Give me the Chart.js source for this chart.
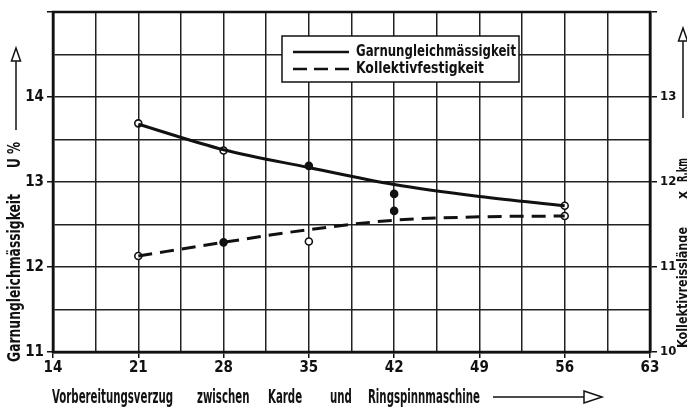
<!DOCTYPE html>
<html>
<head>
<meta charset="utf-8">
<script src="https://cdn.jsdelivr.net/npm/chart.js@4.4.1/dist/chart.umd.min.js"></script>
<style>
html, body { margin: 0; padding: 0; background: #fff; }
#wrap { width: 687px; height: 411px; }
</style>
</head>
<body>
<div id="wrap"><canvas id="chart"></canvas></div>
<script>
var FONT = "'Liberation Sans Narrow', 'DejaVu Sans Condensed', sans-serif";

// smooth fitted curves, read at the grid columns
var curve_x = [21, 28, 35, 42, 49, 56];
var curve_u = [13.68, 13.38, 13.17, 12.97, 12.83, 12.72];   // Garnungleichmässigkeit, U %
var curve_r = [11.13, 11.29, 11.44, 11.55, 11.59, 11.60];   // Kollektivfestigkeit, R.km

// measured points
var point_u_x = [21, 28, 35, 42, 56];
var point_u = [13.69, 13.37, 13.19, 12.86, 12.72];
var point_u_filled = [false, false, true, true, false];
var point_r_x = [21, 28, 35, 42, 56];
var point_r = [11.13, 11.29, 11.30, 11.66, 11.60];
var point_r_filled = [false, true, false, true, false];

var label_u = 'Garnungleichmässigkeit';
var label_r = 'Kollektivfestigkeit';

function pairs(xs, ys) {
    return xs.map(function (x, i) { return { x: x, y: ys[i] }; });
}

function arrow_up(ctx, x, y_bottom, y_top) {
    ctx.beginPath();
    ctx.moveTo(x, y_bottom);
    ctx.lineTo(x, y_top + 13);
    ctx.stroke();
    ctx.beginPath();
    ctx.moveTo(x - 4.5, y_top + 13);
    ctx.lineTo(x, y_top);
    ctx.lineTo(x + 4.5, y_top + 13);
    ctx.closePath();
    ctx.fillStyle = '#fff';
    ctx.fill();
    ctx.stroke();
}

var decorations = {
    id: 'decorations',
    afterDraw: function (chart) {
        var ctx = chart.ctx;
        var area = chart.chartArea;
        ctx.save();
        ctx.strokeStyle = '#111';
        ctx.lineWidth = 2.5;
        ctx.strokeRect(area.left, area.top, area.right - area.left, area.bottom - area.top);

        // legend box
        ctx.fillStyle = '#fff';
        ctx.fillRect(282, 36, 237, 46);
        ctx.lineWidth = 1.5;
        ctx.strokeRect(282, 36, 237, 46);
        ctx.lineWidth = 2.5;
        ctx.beginPath();
        ctx.moveTo(293, 52);
        ctx.lineTo(349, 52);
        ctx.stroke();
        ctx.setLineDash([14, 7]);
        ctx.beginPath();
        ctx.moveTo(293, 69);
        ctx.lineTo(349, 69);
        ctx.stroke();
        ctx.setLineDash([]);
        ctx.fillStyle = '#111';
        ctx.font = 'bold 16px ' + FONT;
        ctx.textBaseline = 'middle';
        ctx.textAlign = 'left';
        ctx.fillText(label_u, 356, 52, 160);
        ctx.fillText(label_r, 356, 69, 128);

        // x title, one condensing factor for all words
        ctx.textBaseline = 'alphabetic';
        ctx.font = 'bold 19px ' + FONT;
        var sx = Math.min(1, 121 / ctx.measureText('Vorbereitungsverzug').width);
        var words = [['Vorbereitungsverzug', 52], ['zwischen', 197], ['Karde', 268],
                     ['und', 330], ['Ringspinnmaschine', 368]];
        words.forEach(function (w) {
            ctx.save();
            ctx.translate(w[1], 403);
            ctx.scale(sx, 1);
            ctx.fillText(w[0], 0, 0);
            ctx.restore();
        });
        ctx.lineWidth = 1.5;
        ctx.beginPath();
        ctx.moveTo(493, 397);
        ctx.lineTo(584, 397);
        ctx.stroke();
        ctx.beginPath();
        ctx.moveTo(584, 391);
        ctx.lineTo(602, 397);
        ctx.lineTo(584, 403);
        ctx.closePath();
        ctx.fillStyle = '#fff';
        ctx.fill();
        ctx.stroke();

        // left title
        ctx.fillStyle = '#111';
        ctx.save();
        ctx.translate(16, 0);
        ctx.rotate(-Math.PI / 2);
        ctx.textBaseline = 'middle';
        ctx.font = 'bold 17px ' + FONT;
        ctx.fillText('Garnungleichmässigkeit', -362, 0, 168);
        ctx.fillText('U %', -168, 0, 26);
        ctx.restore();
        arrow_up(ctx, 16, 130, 48);

        // right title
        ctx.fillStyle = '#111';
        ctx.save();
        ctx.translate(683, 0);
        ctx.rotate(-Math.PI / 2);
        ctx.textBaseline = 'middle';
        ctx.font = 'bold 14px ' + FONT;
        ctx.fillText('Kollektivreisslänge', -348, 0, 121);
        ctx.fillText('x', -199, 0, 8);
        ctx.fillText('R.km', -182, 0, 24);
        ctx.restore();
        arrow_up(ctx, 683, 118, 28);
        ctx.restore();
    }
};

var tick_font = { family: FONT, size: 15, weight: 'bold' };

new Chart(document.getElementById('chart'), {
    type: 'line',
    data: {
        datasets: [{
            label: label_u,
            data: pairs(curve_x, curve_u),
            yAxisID: 'y',
            borderColor: '#111',
            borderWidth: 3,
            pointRadius: 0,
            cubicInterpolationMode: 'monotone',
            fill: false
        }, {
            label: label_r,
            data: pairs(curve_x, curve_r),
            yAxisID: 'y2',
            borderColor: '#111',
            borderWidth: 3,
            borderDash: [14, 8],
            pointRadius: 0,
            cubicInterpolationMode: 'monotone',
            fill: false
        }, {
            type: 'scatter',
            label: label_u + ' Messwerte',
            data: pairs(point_u_x, point_u),
            yAxisID: 'y',
            pointRadius: 3.5,
            pointBorderWidth: 1.6,
            pointBorderColor: '#111',
            pointBackgroundColor: point_u_filled.map(function (f) { return f ? '#111' : '#fff'; })
        }, {
            type: 'scatter',
            label: label_r + ' Messwerte',
            data: pairs(point_r_x, point_r),
            yAxisID: 'y2',
            pointRadius: 3.5,
            pointBorderWidth: 1.6,
            pointBorderColor: '#111',
            pointBackgroundColor: point_r_filled.map(function (f) { return f ? '#111' : '#fff'; })
        }]
    },
    options: {
        responsive: true,
        maintainAspectRatio: false,
        animation: false,
        layout: { padding: { top: 12, left: 0, right: 0, bottom: 0 } },
        plugins: { legend: { display: false }, tooltip: { enabled: false } },
        scales: {
            x: {
                type: 'linear',
                min: 14,
                max: 63,
                afterFit: function (s) { s.height = 59; },
                ticks: {
                    stepSize: 3.5,
                    autoSkip: false,
                    maxRotation: 0,
                    color: '#111',
                    font: tick_font,
                    padding: 1,
                    callback: function (v) { return v % 7 === 0 ? v : ''; }
                },
                grid: {
                    color: '#222',
                    lineWidth: 1.5,
                    tickLength: 6,
                    tickColor: function (c) { return c.tick && c.tick.value % 7 === 0 ? '#111' : 'rgba(0,0,0,0)'; }
                },
                border: { color: '#111', width: 2.5 }
            },
            y: {
                position: 'left',
                min: 11,
                max: 15,
                afterFit: function (s) { s.width = 53; },
                ticks: {
                    stepSize: 0.5,
                    color: '#111',
                    font: tick_font,
                    padding: 3,
                    callback: function (v) { return (v % 1 === 0 && v < 15) ? v : ''; }
                },
                grid: {
                    color: '#222',
                    lineWidth: 1.5,
                    tickLength: 6,
                    tickColor: function (c) { return c.tick && c.tick.value % 1 === 0 ? '#111' : 'rgba(0,0,0,0)'; }
                },
                border: { color: '#111', width: 2.5 }
            },
            y2: {
                position: 'right',
                min: 10,
                max: 14,
                afterFit: function (s) { s.width = 37; },
                ticks: {
                    stepSize: 0.5,
                    color: '#111',
                    font: { family: FONT, size: 13, weight: 'bold' },
                    padding: 3,
                    callback: function (v) { return (v % 1 === 0 && v < 14) ? v : ''; }
                },
                grid: {
                    drawOnChartArea: false,
                    tickLength: 7,
                    lineWidth: 1.5,
                    tickColor: function (c) { return c.tick && c.tick.value % 1 === 0 ? '#111' : 'rgba(0,0,0,0)'; }
                },
                border: { color: '#111', width: 2.5 }
            }
        }
    },
    plugins: [decorations]
});
</script>
</body>
</html>
